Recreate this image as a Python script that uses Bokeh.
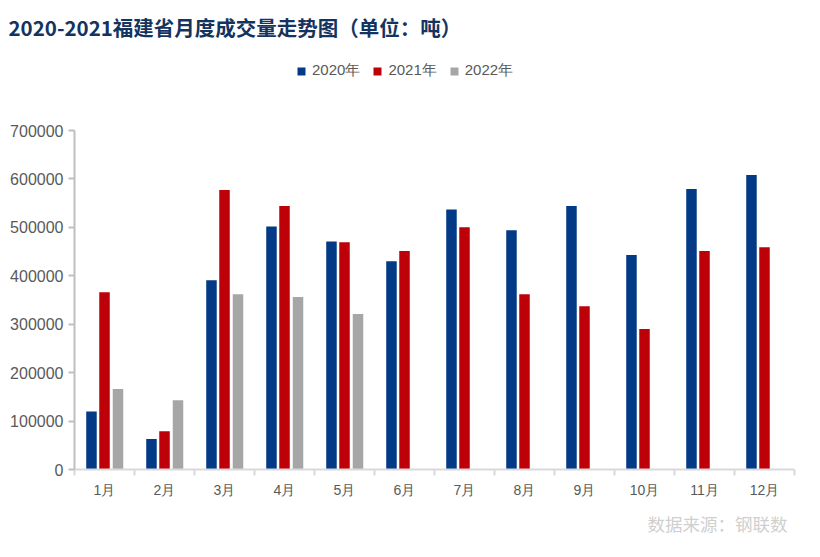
import numpy as np
from bokeh.plotting import figure
from bokeh.models import (Range1d, FixedTicker, Title, Legend, LegendItem,
                          ColumnDataSource)
from bokeh.embed import file_html
from bokeh.resources import INLINE

months = ["1月", "2月", "3月", "4月", "5月", "6月", "7月", "8月", "9月", "10月", "11月", "12月"]
series_names = ["2020年", "2021年", "2022年"]
v2020 = [120000, 63000, 391000, 502000, 471000, 430000, 537000, 494000, 544000, 443000, 579000, 608000]
v2021 = [366000, 79000, 577000, 544000, 469000, 451000, 500000, 362000, 337000, 290000, 451000, 459000]
v2022 = [166000, 143000, 362000, 356000, 321000]
y_ticks = [0, 100000, 200000, 300000, 400000, 500000, 600000, 700000]

colors = ["#033a86", "#be0009", "#a6a6a6"]
offsets = [-0.217, 0.0, 0.225]
bar_w = 0.175

title_text = "2020-2021福建省月度成交量走势图（单位：吨）"
source_text = "数据来源：钢联数"

W, H = 812, 549
top_border, bottom_border = 50, 80
frame_h = H - top_border - bottom_border
axis_h = 339  # pixel height of the value axis (0..700000)
y_max = y_ticks[-1]
y_end = y_max * frame_h / axis_h

p = figure(width=W, height=H, output_backend="svg", toolbar_location=None,
           x_range=Range1d(0, len(months)), y_range=Range1d(0, y_end),
           min_border_left=74, min_border_right=18, min_border_top=top_border,
           min_border_bottom=bottom_border)
p.outline_line_color = None
p.grid.grid_line_color = None
p.background_fill_color = "white"
p.border_fill_color = "white"

renderers = []
for vals, c, off in zip([v2020, v2021, v2022], colors, offsets):
    xs = np.arange(len(vals)) + 0.5 + off
    src = ColumnDataSource(dict(x=xs, top=vals))
    r = p.vbar(x="x", top="top", width=bar_w, bottom=0, source=src,
               fill_color=c, line_color=None)
    renderers.append(r)

# x axis
xa = p.xaxis[0]
centers = [i + 0.5 for i in range(len(months))]
xa.ticker = FixedTicker(ticks=centers, minor_ticks=list(range(len(months) + 1)))
xa.major_label_overrides = {c: m for c, m in zip(centers, months)}
xa.major_tick_out = 0
xa.major_tick_in = 0
xa.minor_tick_out = 6
xa.minor_tick_in = 0
xa.minor_tick_line_color = "#d9d9d9"
xa.minor_tick_line_width = 2
xa.axis_line_color = "#d9d9d9"
xa.axis_line_width = 2
xa.major_label_text_font = "Liberation Sans"
xa.major_label_text_font_size = "14px"
xa.major_label_text_color = "#595959"
xa.major_label_standoff = 6

# y axis
ya = p.yaxis[0]
ya.ticker = FixedTicker(ticks=y_ticks)
ya.bounds = (0, y_max)
ya.major_label_overrides = {t: str(t) for t in y_ticks}
ya.minor_tick_line_color = None
ya.major_tick_out = 6
ya.major_tick_in = 0
ya.major_tick_line_color = "#bfbfbf"
ya.major_tick_line_width = 2
ya.axis_line_color = "#bfbfbf"
ya.axis_line_width = 2
ya.major_label_text_font = "Liberation Sans"
ya.major_label_text_font_size = "16px"
ya.major_label_text_color = "#595959"
ya.major_label_standoff = 5

# legend (inside the upper part of the frame)
legend = Legend(items=[LegendItem(label=n, renderers=[r]) for n, r in zip(series_names, renderers)],
                orientation="horizontal", location=(222, 389),
                glyph_width=10, glyph_height=10, label_standoff=6, spacing=12,
                padding=0, margin=0, border_line_color=None,
                background_fill_alpha=0,
                label_text_font="Liberation Sans", label_text_font_size="15px",
                label_text_color="#595959", label_height=14)
p.add_layout(legend, "center")

# title (above) and source note (below)
p.add_layout(Title(text=title_text, align="left", offset=-66, standoff=18,
                   text_font="Noto Sans CJK SC", text_font_style="bold",
                   text_font_size="20.5px", text_color="#14345f"), "above")
p.add_layout(Title(text=source_text, align="right", offset=7, standoff=16,
                   text_font="Noto Sans CJK SC", text_font_style="normal",
                   text_font_size="17.5px", text_color="#cfcfcf"), "below")

open("out.html", "w").write(file_html(p, INLINE))
